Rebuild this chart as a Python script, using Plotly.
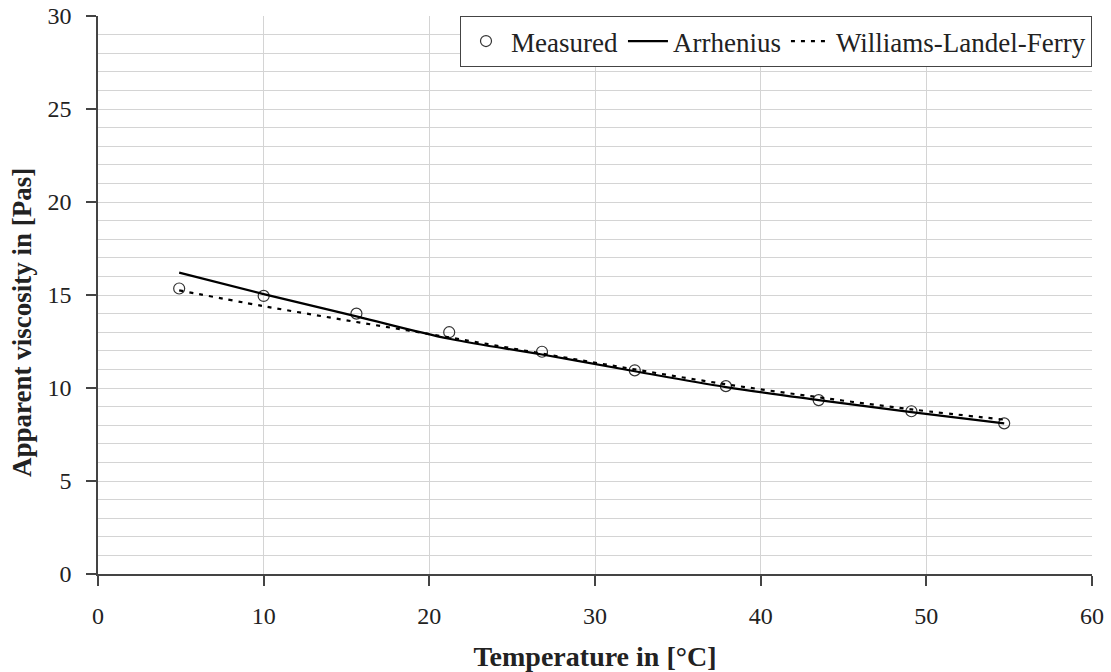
import plotly.graph_objects as go

temp_measured = [4.9, 10.0, 15.6, 21.2, 26.8, 32.4, 37.9, 43.5, 49.1, 54.7]
visc_measured = [15.35, 14.95, 14.0, 13.0, 11.95, 10.95, 10.1, 9.35, 8.75, 8.1]

temp_fit = [4.9, 10.0, 15.6, 21.2, 26.8, 32.4, 37.9, 43.5, 49.1, 54.7]
visc_arrhenius = [16.2, 15.05, 13.85, 12.65, 11.8, 10.9, 10.05, 9.35, 8.7, 8.1]
visc_wlf = [15.25, 14.4, 13.55, 12.72, 11.85, 11.0, 10.2, 9.5, 8.85, 8.3]

font_family = "Liberation Serif, Times New Roman, serif"

fig = go.Figure()
fig.add_trace(go.Scatter(
    x=temp_measured, y=visc_measured, mode="markers", name="Measured",
    marker=dict(symbol="circle-open", size=11, color="#333333", line=dict(width=1.2, color="#333333")),
))
fig.add_trace(go.Scatter(
    x=temp_fit, y=visc_arrhenius, mode="lines", name="Arrhenius",
    line=dict(color="black", width=2.2, shape="spline"),
))
fig.add_trace(go.Scatter(
    x=temp_fit, y=visc_wlf, mode="lines", name="Williams-Landel-Ferry",
    line=dict(color="black", width=2.2, dash="4px,6px", shape="spline"),
))

fig.update_layout(
    width=1111, height=672,
    margin=dict(l=98, r=19, t=16, b=98, autoexpand=False),
    paper_bgcolor="white", plot_bgcolor="white",
    font=dict(family=font_family, size=24, color="#222222"),
    legend=dict(
        orientation="h", x=1, xanchor="right", y=1, yanchor="top",
        bordercolor="#444444", borderwidth=1, bgcolor="white",
        font=dict(size=27), itemwidth=40, tracegroupgap=0,
    ),
    showlegend=True,
    annotations=[dict(
        text="<b>Apparent viscosity in [Pas]</b>", textangle=-90,
        xref="paper", yref="paper", x=-0.0765, y=0.4516,
        xanchor="center", yanchor="middle", showarrow=False,
        font=dict(size=27, color="#222222"),
    )],
)
fig.update_xaxes(
    range=[0, 60], dtick=10, tick0=0, automargin=False,
    showgrid=True, gridcolor="#d4d4d4", gridwidth=1,
    showline=True, linecolor="#444444", linewidth=1.5,
    ticks="outside", ticklen=10, tickcolor="#444444", tickwidth=1.5,
    zeroline=False, tickfont=dict(size=24), ticklabelstandoff=9,
    title=dict(text="<b>Temperature in [°C]</b>", font=dict(size=28), standoff=24),
)
fig.update_yaxes(
    range=[0, 30], dtick=5, tick0=0, automargin=False,
    showgrid=True, gridcolor="#d4d4d4", gridwidth=1,
    minor=dict(dtick=1, showgrid=True, gridcolor="#d4d4d4", gridwidth=1),
    showline=True, linecolor="#444444", linewidth=1.5,
    ticks="outside", ticklen=10, tickcolor="#444444", tickwidth=1.5,
    zeroline=False, tickfont=dict(size=24), ticklabelstandoff=10,
)

fig.write_html("out.html")
